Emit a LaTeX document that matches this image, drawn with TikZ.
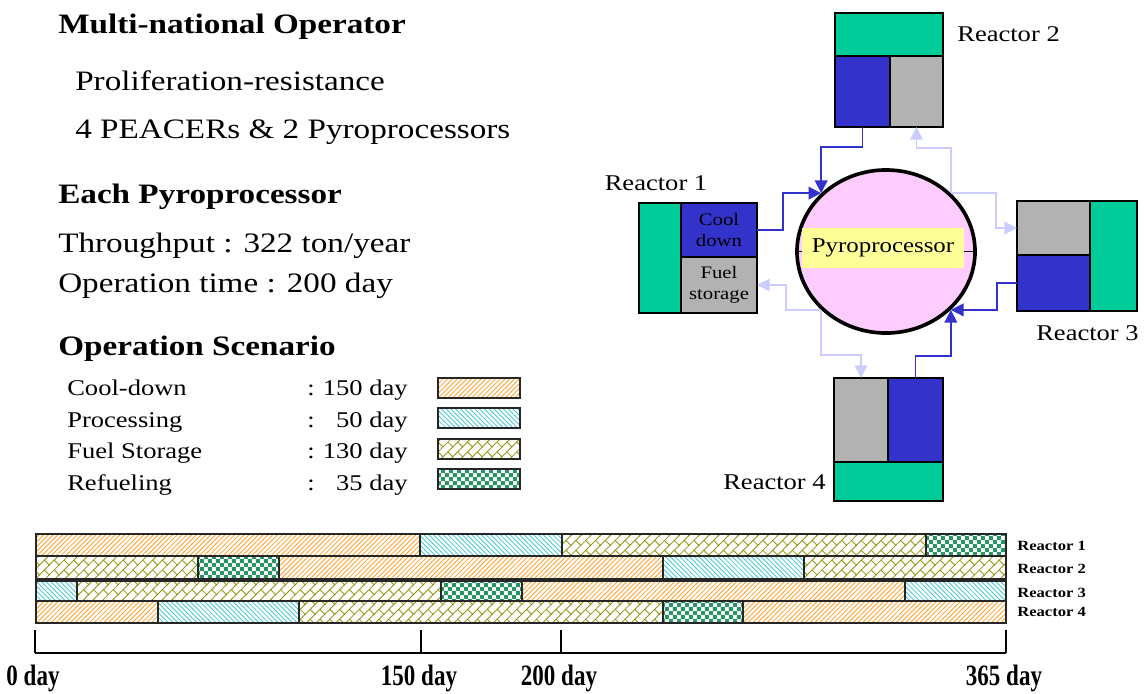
\documentclass[tikz,border=0pt]{standalone}
\usepackage{fontspec}
\setmainfont{Liberation Serif}[FakeStretch=1.18]
\newfontfamily\axisfont{Liberation Serif}[FakeStretch=0.78]
\usepackage{tikz}
\usetikzlibrary{shapes,arrows.meta,positioning,fit,patterns.meta}

\definecolor{rgreen}{RGB}{0,204,153}
\definecolor{rblue}{RGB}{51,51,204}
\definecolor{rgray}{RGB}{178,178,178}
\definecolor{pyropink}{RGB}{255,204,255}
\definecolor{pyroyellow}{RGB}{255,255,153}
\definecolor{flowlight}{RGB}{204,204,255}
\definecolor{porange}{RGB}{255,160,40}
\definecolor{pcyan}{RGB}{70,200,210}
\definecolor{polive}{RGB}{150,150,20}
\definecolor{pgreen}{RGB}{40,150,100}

\pgfdeclarepattern{
  name=diagbrick, type=uncolored,
  bottom left={\pgfpoint{-.5pt}{-.5pt}}, top right={\pgfpoint{7.5pt}{7.5pt}},
  tile size={\pgfpoint{7pt}{7pt}},
  code={
    \pgfsetlinewidth{0.6pt}
    \pgfpathmoveto{\pgfpoint{-0.5pt}{-0.5pt}}\pgfpathlineto{\pgfpoint{7.5pt}{7.5pt}}
    \pgfpathmoveto{\pgfpoint{3.5pt}{3.5pt}}\pgfpathlineto{\pgfpoint{7pt}{0pt}}
    \pgfusepath{stroke}
  }
}
\pgfdeclarepattern{
  name=checker, type=uncolored,
  bottom left={\pgfpoint{0pt}{0pt}}, top right={\pgfpoint{5.6pt}{5.6pt}},
  tile size={\pgfpoint{5.6pt}{5.6pt}},
  code={
    \pgfpathrectangle{\pgfpointorigin}{\pgfpoint{2.8pt}{2.8pt}}
    \pgfpathrectangle{\pgfpoint{2.8pt}{2.8pt}}{\pgfpoint{2.8pt}{2.8pt}}
    \pgfusepath{fill}
  }
}

\tikzstyle{head} = [font=\fontsize{20}{24}\selectfont\bfseries, anchor=base west, inner sep=0pt]
\tikzstyle{body} = [font=\fontsize{20}{24}\selectfont, anchor=base west, inner sep=0pt]
\tikzstyle{legtext} = [font=\fontsize{16}{19}\selectfont, anchor=base west, inner sep=0pt]
\tikzstyle{rlabel} = [font=\fontsize{16}{19}\selectfont, inner sep=0pt]
\tikzstyle{part} = [draw, line width=0.9pt, inner sep=0pt, outer sep=0pt]
\tikzstyle{boxtext} = [font=\fontsize{12.5}{15}\selectfont, align=center, inner sep=0pt]
\tikzstyle{darkflow} = [draw=rblue, line width=1.1pt, -{Triangle[length=9pt,width=9pt]}]
\tikzstyle{lightflow} = [draw=flowlight, line width=1.1pt, -{Triangle[length=9pt,width=9pt]}]
\tikzstyle{seg} = [draw=black!85, line width=0.8pt]
\tikzstyle{coolseg} = [seg, pattern={Lines[angle=45,distance=2.4pt,line width=0.6pt]}, pattern color=porange]
\tikzstyle{procseg} = [seg, pattern={Lines[angle=-45,distance=2.4pt,line width=0.6pt]}, pattern color=pcyan]
\tikzstyle{fuelseg} = [seg, pattern=diagbrick, pattern color=polive]
\tikzstyle{refuelseg} = [seg, pattern=checker, pattern color=pgreen]
\tikzstyle{rowlabel} = [font=\fontsize{10}{12}\selectfont\bfseries, anchor=base west, inner sep=0pt]
\tikzstyle{axislabel} = [font=\axisfont\fontsize{21}{24}\selectfont\bfseries, anchor=base, inner sep=0pt]

\begin{document}
\begin{tikzpicture}[x=0.025cm, y=-0.025cm]
\useasboundingbox (0,0) rectangle (1144,693);

% Text block
\node [head] (mno) at (58,33) {Multi-national Operator};
\node [body] (prolif) at (75,90) {Proliferation-resistance};
\node [body] (units) at (75,138) {4 PEACERs \& 2 Pyroprocessors};
\node [head] (each) at (58,203) {Each Pyroprocessor};
\node [body] (thru) at (58,252) {Throughput : 322 ton/year};
\node [body] (optime) at (58,292) {Operation time : 200 day};
\node [head] (scen) at (58,355) {Operation Scenario};

% Legend
\foreach \name/\val/\sty/\yb/\yt [count=\i] in {Cool-down/150/coolseg/395/378, Processing/50/procseg/427/408, Fuel Storage/130/fuelseg/458/439, Refueling/35/refuelseg/490/469} {
  \node [legtext] (leg\i) at (67,\yb) {\name};
  \node [legtext] (legc\i) at (307,\yb) {:};
  \node [legtext, anchor=base east] (legv\i) at (408,\yb) {\val~day};
  \draw [\sty] (438,\yt) rectangle ++(82,20);
}

% Pyroprocessor
\node [ellipse, draw, line width=2.6pt, fill=pyropink, minimum width=4.45cm,
minimum height=4.075cm, inner sep=0pt] (pyro) at (886,251.5) {};
\draw (pyro.west) -- (pyro.east);
\node [fit={(802,228) (964,268)}, fill=pyroyellow, inner sep=0pt] (pyrobar) {};
\node [font=\fontsize{15}{17}\selectfont, inner sep=0pt] (pyrolabel) at (pyrobar) {Pyroprocessor};

% Reactors
\node [part, fill=rgreen, fit={(639,203) (681,313)}] (r1g) {};
\node [part, fill=rblue, fit={(681,203) (757,257)}] (r1cool) {};
\node [part, fill=rgray, fit={(681,257) (757,313)}] (r1fuel) {};
\node [boxtext] at (r1cool) {Cool\\down};
\node [boxtext] at (r1fuel) {Fuel\\storage};
\node [rlabel] (r1lab) at (656,183) {Reactor 1};

\node [part, fill=rgreen, fit={(835,13) (943,56)}] (r2g) {};
\node [part, fill=rblue, fit={(835,56) (890,127)}] (r2b) {};
\node [part, fill=rgray, fit={(890,56) (943,127)}] (r2gr) {};
\node [rlabel, right=0.35cm of r2g] (r2lab) {Reactor 2};

\node [part, fill=rgray, fit={(1017,201) (1090,255)}] (r3gr) {};
\node [part, fill=rblue, fit={(1017,255) (1090,311)}] (r3b) {};
\node [part, fill=rgreen, fit={(1090,201) (1137,311)}] (r3g) {};
\node [rlabel, anchor=east] (r3lab) at (1139,333) {Reactor 3};

\node [part, fill=rgray, fit={(834,378) (888,462)}] (r4gr) {};
\node [part, fill=rblue, fit={(888,378) (943,462)}] (r4b) {};
\node [part, fill=rgreen, fit={(834,462) (943,501)}] (r4g) {};
\node [rlabel, anchor=east] (r4lab) at (826,482) {Reactor 4};

% Flows into the pyroprocessor
\path [darkflow] (r2b.south) -- ++(0,20) -| (pyro.138);
\path [darkflow] (r1cool.east) -- ++(26,0) |- (pyro.138);
\path [darkflow] (r3b.west) -- ++(-20,0) |- (pyro.-42);
\path [darkflow] (r4b.north) -- ++(0,-22) -| (pyro.-42);

% Flows back to the reactors
\path [lightflow] (pyro.42) -- ++(0,-45) -| (r2gr.south);
\path [lightflow] (pyro.42) -- ++(45,0) |- (r3gr.west);
\path [lightflow] (pyro.-138) -- ++(-35,0) |- (r1fuel.east);
\path [lightflow] (pyro.-138) -- ++(0,45) -| (r4gr.north);

% Yearly schedule
\foreach \a/\b/\s in {36/420/coolseg, 420/562/procseg, 562/926/fuelseg, 926/1006/refuelseg}
  \draw [\s] (\a,534) rectangle (\b,556);
\foreach \a/\b/\s in {36/198/fuelseg, 198/279/refuelseg, 279/663/coolseg, 663/804/procseg, 804/1006/fuelseg}
  \draw [\s] (\a,556) rectangle (\b,579);
\foreach \a/\b/\s in {36/77/procseg, 77/441/fuelseg, 441/522/refuelseg, 522/905/coolseg, 905/1006/procseg}
  \draw [\s] (\a,581) rectangle (\b,601);
\foreach \a/\b/\s in {36/158/coolseg, 158/299/procseg, 299/663/fuelseg, 663/743/refuelseg, 743/1006/coolseg}
  \draw [\s] (\a,601) rectangle (\b,623);

\foreach \yb [count=\i] in {550,573,597,616}
  \node [rowlabel] (row\i) at (1017,\yb) {Reactor \i};

% Day axis
\coordinate (ax0) at (35,653);
\coordinate (ax1) at (1006,653);
\draw [line width=2pt] (ax0) -- (ax1);
\foreach \x/\lab [count=\i] in {35/0 day, 421/150 day, 561/200 day, 1006/365 day} {
  \draw [line width=1pt] (\x,630) -- (\x,653);
  \node [axislabel] (day\i) at (\x-2,685) {\lab};
}

\end{tikzpicture}
\end{document}
